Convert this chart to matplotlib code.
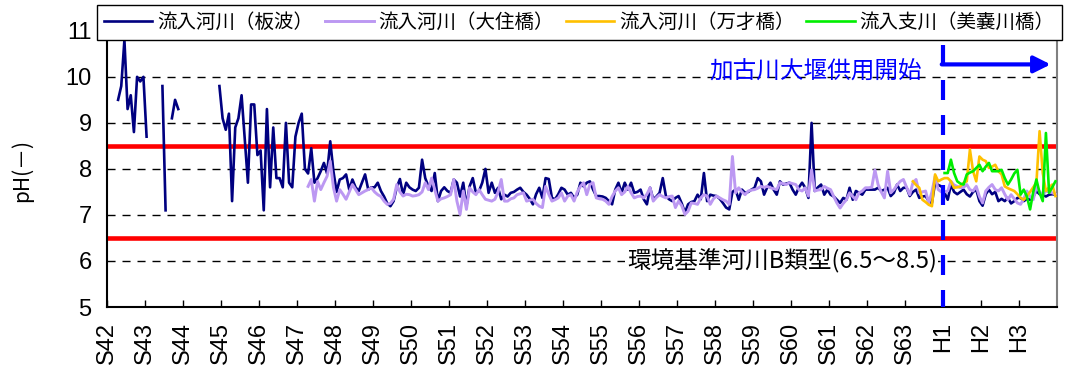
import numpy as np
import matplotlib
matplotlib.use("Agg")
import matplotlib.pyplot as plt

plt.rcParams['font.family'] = ['Noto Sans CJK JP', 'DejaVu Sans']

nan = np.nan

# 年度ラベル (S42 ~ H3)
years = ['S42', 'S43', 'S44', 'S45', 'S46', 'S47', 'S48', 'S49', 'S50', 'S51',
         'S52', 'S53', 'S54', 'S55', 'S56', 'S57', 'S58', 'S59', 'S60', 'S61',
         'S62', 'S63', 'H1', 'H2', 'H3']

# 流入河川(板波)  月別 pH
itanami = [
    [nan, nan, nan, 9.5, 9.8, 10.8, 9.3, 9.6, 8.8, 10.0, 9.9, 10.0],
    [8.7, nan, nan, nan, nan, 9.8, 7.1, nan, 9.1, 9.5, 9.3, nan],
    [nan, nan, nan, nan, nan, nan, nan, nan, nan, nan, nan, 9.8],
    [9.1, 8.85, 9.2, 7.3, 8.9, 9.1, 9.6, 8.65, 7.7, 9.4, 9.4, 8.3],
    [8.4, 7.1, 9.3, 7.6, 8.9, 7.8, 7.8, 7.6, 9.0, 7.7, 7.6, 8.7],
    [9.0, 9.2, 8.0, 7.9, 8.45, 7.7, 7.8, 7.95, 8.13, 7.9, 8.6, 7.95],
    [7.5, 7.77, 7.8, 7.88, 7.55, 7.77, 7.6, 7.52, 7.7, 7.88, 7.55, 7.6],
    [7.6, 7.7, 7.52, 7.4, 7.25, 7.19, 7.3, 7.6, 7.78, 7.44, 7.7, 7.6],
    [7.55, 7.52, 7.59, 8.2, 7.8, 7.62, 7.52, 7.91, 7.3, 7.52, 7.6, 7.52],
    [7.48, 7.77, 7.7, 7.4, 7.7, 7.19, 7.62, 7.8, 7.48, 7.52, 7.7, 8.0],
    [7.48, 7.7, 7.48, 7.59, 7.34, 7.44, 7.4, 7.48, 7.5, 7.55, 7.59, 7.5],
    [7.44, 7.35, 7.23, 7.45, 7.59, 7.37, 7.8, 7.78, 7.37, 7.34, 7.45, 7.59],
    [7.55, 7.44, 7.48, 7.37, 7.44, 7.7, 7.62, 7.7, 7.73, 7.55, 7.41, 7.41],
    [7.4, 7.37, 7.3, 7.23, 7.55, 7.7, 7.48, 7.7, 7.55, 7.7, 7.48, 7.5],
    [7.55, 7.34, 7.23, 7.59, 7.34, 7.4, 7.48, 7.8, 7.41, 7.34, 7.3, 7.37],
    [7.41, 7.25, 7.05, 7.23, 7.28, 7.3, 7.44, 7.34, 7.91, 7.3, 7.44, 7.42],
    [7.41, 7.35, 7.26, 7.16, 7.12, 7.5, 7.55, 7.33, 7.55, 7.48, 7.5, 7.55],
    [7.59, 7.8, 7.73, 7.44, 7.6, 7.7, 7.55, 7.44, 7.73, 7.66, 7.68, 7.7],
    [7.55, 7.44, 7.6, 7.7, 7.59, 7.37, 9.0, 7.52, 7.6, 7.66, 7.44, 7.55],
    [7.44, 7.4, 7.33, 7.26, 7.37, 7.33, 7.59, 7.33, 7.52, 7.48, 7.44, 7.55],
    [7.55, 7.55, 7.55, 7.59, 7.52, 7.55, 7.59, 7.41, 7.48, 7.66, 7.52, 7.59],
    [7.59, 7.41, 7.5, 7.55, 7.37, 7.4, 7.41, 7.3, 7.26, 7.7, 7.65, 7.62],
    [7.48, 7.33, 7.66, 7.5, 7.45, 7.5, 7.55, 7.45, 7.4, 7.5, 7.55, 7.3],
    [7.2, 7.45, 7.55, 7.45, 7.5, 7.3, 7.35, 7.3, 7.37, 7.25, 7.3, 7.37],
    [7.37, 7.3, 7.35, 7.33, 7.4, 7.52, 7.45, 7.44, 7.4, 7.44, 7.45, 7.44],
]

# 流入河川(大住橋)  S47から
osumi_start = 'S47'
osumi = [
    [nan, nan, nan, 7.62, 7.77, 7.3, 7.73, 7.55, 7.7, 7.84, 8.17, 7.6],
    [7.3, 7.55, 7.45, 7.34, 7.5, 7.66, 7.55, 7.44, 7.48, 7.52, 7.55, 7.59],
    [7.5, 7.44, 7.4, 7.3, 7.23, 7.25, 7.34, 7.66, 7.5, 7.41, 7.45, 7.44],
    [7.41, 7.42, 7.44, 7.5, 7.7, 7.55, 7.8, 7.55, 7.3, 7.35, 7.37, 7.4],
    [7.44, 7.77, 7.3, 7.01, 7.52, 7.12, 7.59, 7.5, 7.44, 7.55, 7.44, 7.34],
    [7.32, 7.3, 7.34, 7.5, 7.77, 7.3, 7.3, 7.35, 7.37, 7.44, 7.46, 7.48],
    [7.3, 7.32, 7.34, 7.25, 7.19, 7.16, 7.62, 7.45, 7.3, 7.33, 7.37, 7.48],
    [7.3, 7.41, 7.44, 7.3, 7.5, 7.62, 7.7, 7.44, 7.66, 7.7, 7.37, 7.35],
    [7.34, 7.3, 7.23, 7.4, 7.52, 7.59, 7.44, 7.5, 7.62, 7.48, 7.37, 7.4],
    [7.41, 7.37, 7.45, 7.59, 7.3, 7.38, 7.44, 7.4, 7.37, 7.4, 7.41, 7.16],
    [7.3, 7.2, 7.01, 7.08, 7.26, 7.25, 7.23, 7.37, 7.44, 7.41, 7.23, 7.35],
    [7.41, 7.37, 7.33, 7.3, 7.23, 8.27, 7.48, 7.59, 7.5, 7.44, 7.52, 7.54],
    [7.55, 7.58, 7.62, 7.6, 7.62, 7.59, 7.57, 7.55, 7.7, 7.68, 7.66, 7.7],
    [7.68, 7.66, 7.55, 7.52, 7.59, 7.41, 7.98, 7.52, 7.54, 7.55, 7.62, 7.58],
    [7.55, 7.4, 7.26, 7.15, 7.25, 7.33, 7.48, 7.4, 7.33, 7.48, 7.52, 7.59],
    [7.59, 7.6, 7.98, 7.66, 7.5, 7.37, 7.95, 7.48, 7.55, 7.65, 7.73, 7.77],
    [7.6, 7.44, 7.7, 7.77, 7.48, 7.5, 7.52, 7.26, 7.5, 7.84, 7.55, 7.5],
    [7.5, 7.52, 7.73, 7.65, 7.62, 7.59, 7.6, 7.66, 7.55, 7.52, 7.62, 7.4],
    [7.26, 7.52, 7.6, 7.66, 7.55, 7.52, 7.59, 7.45, 7.33, 7.44, 7.35, 7.26],
    [7.23, 7.35, 7.52, 7.4, 7.33, 7.62, 7.5, 7.44, 7.52, 7.5, 7.48, 7.45],
]

# 流入河川(万才橋)  S63から
banzai_start = 'S63'
banzai = [
    [nan, nan, 7.73, 7.65, 7.59, 7.33, 7.28, 7.22, 7.19, 7.88, 7.73, 7.77],
    [7.8, 7.8, 7.73, 7.59, 7.6, 7.62, 7.7, 7.73, 8.42, 7.95, 7.73, 8.27],
    [8.2, 8.17, 8.02, 8.05, 8.09, 7.95, 7.88, 7.62, 7.58, 7.55, 7.52, 7.45],
    [7.37, 7.33, 7.41, 7.5, 7.6, 7.7, 8.82, 7.91, 7.52, 7.6, 7.66, 7.41],
]

# 流入支川(美嚢川橋)  H1から
minogawa_start = 'H1'
minogawa = [
    [7.91, 7.91, 8.2, 7.91, 7.73, 7.68, 7.66, 7.88, 7.92, 7.95, 8.02, 8.09],
    [7.95, 8.05, 8.13, 7.95, 7.95, 7.95, 7.98, 7.8, 7.66, 7.77, 7.9, 7.98],
    [7.44, 7.55, 7.4, 7.12, 7.5, 7.77, 7.48, 7.3, 8.78, 7.48, 7.6, 7.73],
]

std_low, std_high = 6.5, 8.5   # 環境基準河川B類型
weir_year = 'H1'               # 加古川大堰供用開始


def monthly(rows, start):
    vals = np.array(rows, dtype=float).ravel()
    x = years.index(start) * 12 + np.arange(len(vals)) + 0.5
    return x, vals


fig = plt.figure(figsize=(10.68, 3.65), dpi=100)
ax = fig.add_axes([107 / 1068, 58 / 365, 950 / 1068, 276.2 / 365])

ax.set_xlim(0, len(years) * 12)
ax.set_ylim(5, 11)

# 目盛線
for v in range(6, 11):
    ax.axhline(v, color='black', lw=1, ls=(0, (5.8, 5)), zorder=1)

# 環境基準
ax.axhline(std_high, color='red', lw=3.3, zorder=2)
ax.axhline(std_low, color='red', lw=3.3, zorder=2)

x, y = monthly(itanami, years[0])
ax.plot(x, y, color='#000080', lw=1.9, label='流入河川（板波）', zorder=3)
x, y = monthly(osumi, osumi_start)
ax.plot(x, y, color='#BC98F2', lw=2.1, label='流入河川（大住橋）', zorder=4)
x, y = monthly(banzai, banzai_start)
ax.plot(x, y, color='#FFC000', lw=1.9, label='流入河川（万才橋）', zorder=5)
x, y = monthly(minogawa, minogawa_start)
ax.plot(x, y, color='#00EE00', lw=1.9, label='流入支川（美嚢川橋）', zorder=6)

# 大堰供用開始
xw = years.index(weir_year) * 12
ax.plot([xw, xw], [10.7, 5], color='blue', lw=3, ls=(0, (4.8, 3.6)), zorder=7)
ax.annotate('', xy=(298, 10.27), xytext=(xw - 0.4, 10.27),
            arrowprops=dict(arrowstyle='-|>,head_length=0.5,head_width=0.25',
                            color='blue', lw=3, shrinkA=0, shrinkB=0,
                            mutation_scale=20), zorder=7)
ax.text(257.5, 10.1, '加古川大堰供用開始', color='blue', fontsize=17,
        ha='right', va='center', zorder=8)
ax.text(262, 6.0, '環境基準河川B類型(6.5～8.5)', color='black', fontsize=17,
        ha='right', va='center', zorder=8,
        bbox=dict(facecolor='white', edgecolor='none', pad=1))

# 軸
ax.set_xticks(np.arange(len(years)) * 12)
ax.set_xticklabels(years, rotation=90, va='top', ha='center',
                   family=['Liberation Sans Narrow', 'Liberation Sans'], fontsize=17)
ax.set_yticks(range(5, 12))
ax.set_yticklabels([str(v) for v in range(5, 12)],
                   family=['Liberation Sans Narrow', 'Liberation Sans'], fontsize=17)
ax.tick_params(axis='x', direction='in', length=5, width=1, pad=11)
ax.tick_params(axis='y', length=0, pad=11)

for s in ['left', 'bottom']:
    ax.spines[s].set_linewidth(1.5)
    ax.spines[s].set_color('black')
ax.spines['right'].set_color('#808080')
ax.spines['right'].set_linewidth(1.5)
ax.spines['top'].set_visible(False)

fig.text(22 / 1068, 1 - 171 / 365, 'pH(－)', rotation=90, ha='center',
         va='center', fontsize=15)

leg = ax.legend(ncol=4, loc='upper left', bbox_to_anchor=(97 / 1068, 1 - 5 / 365),
                bbox_transform=fig.transFigure, fontsize=14, frameon=True,
                fancybox=False, edgecolor='black', framealpha=1,
                borderaxespad=0, borderpad=0.35, handlelength=2.5,
                handletextpad=0.25, columnspacing=0.6)
leg.get_frame().set_linewidth(1.0)
leg.set_zorder(20)

fig.savefig('out.png', dpi=100)
